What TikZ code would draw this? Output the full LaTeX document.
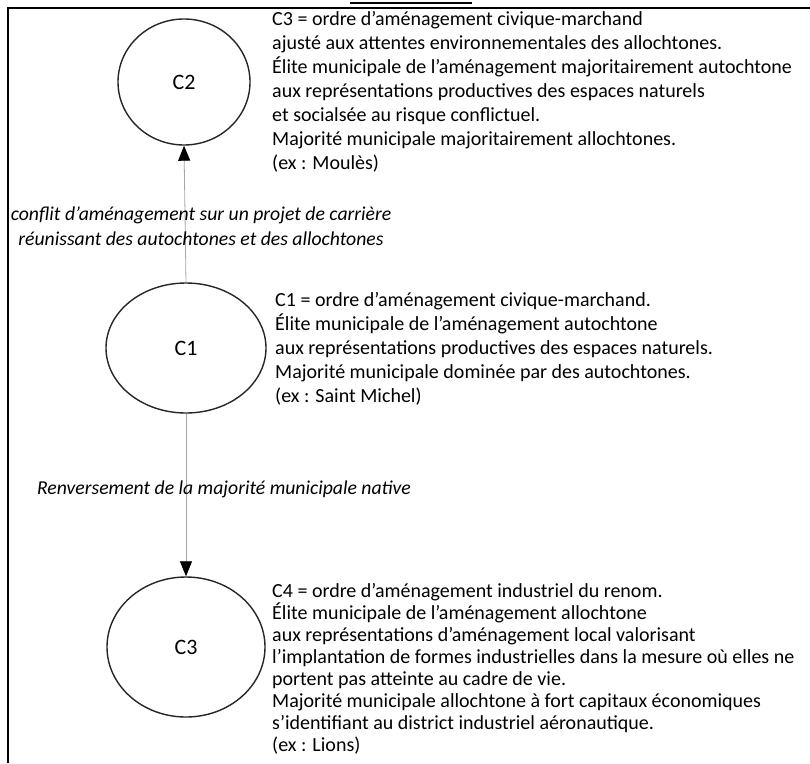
\documentclass[tikz,border=0pt]{standalone}
\usepackage{fontspec}
\setmainfont{Carlito}
\usetikzlibrary{arrows.meta, positioning, shapes.geometric}

\begin{document}
\begin{tikzpicture}[x=1pt, y=-1pt,
  etat/.style={ellipse, draw=black!85, line width=1.4pt, inner sep=0pt,
    font=\fontsize{22}{24}\selectfont},
  descr/.style={anchor=north west, align=left, inner sep=0pt,
    font=\fontsize{20}{24}\selectfont},
  trans/.style={align=center, inner sep=0pt,
    font=\fontsize{19.7}{25}\selectfont\itshape},
  fl/.style={-{Triangle[length=15pt, width=12pt, black]}, gray!70, line width=0.8pt}
]
\useasboundingbox (0,0) rectangle (810,763);

%% -- cadre --
\draw[line width=2pt] (8,763) -- (8,8) -- (810,8);
\draw[line width=2pt] (350,3) -- (472,3);

%% -- configurations --
\node[etat, minimum width=132pt, minimum height=126pt] (C2) at (184,82)  {C2};
\node[etat, minimum width=160pt, minimum height=130pt] (C1) at (186,348) {C1};
\node[etat, minimum width=158pt, minimum height=140pt] (C3) at (186,647) {C3};

%% -- transitions --
\draw[fl] (C1.north) -- (C2.south);
\draw[fl] (C1.south) -- (C3.north);

\node[trans] (L1) at (201,226) {conflit d'aménagement sur un projet de carrière\\
  réunissant des autochtones et des allochtones};
\node[trans] (L2) at (224,489) {Renversement de la majorité municipale native};

%% -- descriptions --
\node[descr] (D2) at (272,11) {
  C3 = ordre d'aménagement civique-marchand\\
  ajusté aux attentes environnementales des allochtones.\\
  Élite municipale de l'aménagement majoritairement autochtone\\
  aux représentations productives des espaces naturels\\
  et socialsée au risque conflictuel.\\
  Majorité municipale majoritairement allochtones.\\
  (ex : Moulès)
};
\node[descr] (D1) at (275,292) {
  C1 = ordre d'aménagement civique-marchand.\\
  Élite municipale de l'aménagement autochtone\\
  aux représentations productives des espaces naturels.\\
  Majorité municipale dominée par des autochtones.\\
  (ex : Saint Michel)
};
\node[descr, font=\fontsize{20}{22}\selectfont] (D3) at (272,583) {
  C4 = ordre d'aménagement industriel du renom.\\
  Élite municipale de l'aménagement allochtone\\
  aux représentations d'aménagement local valorisant\\
  l'implantation de formes industrielles dans la mesure où elles ne\\
  portent pas atteinte au cadre de vie.\\
  Majorité municipale allochtone à fort capitaux économiques\\
  s'identifiant au district industriel aéronautique.\\
  (ex : Lions)
};

\end{tikzpicture}
\end{document}
